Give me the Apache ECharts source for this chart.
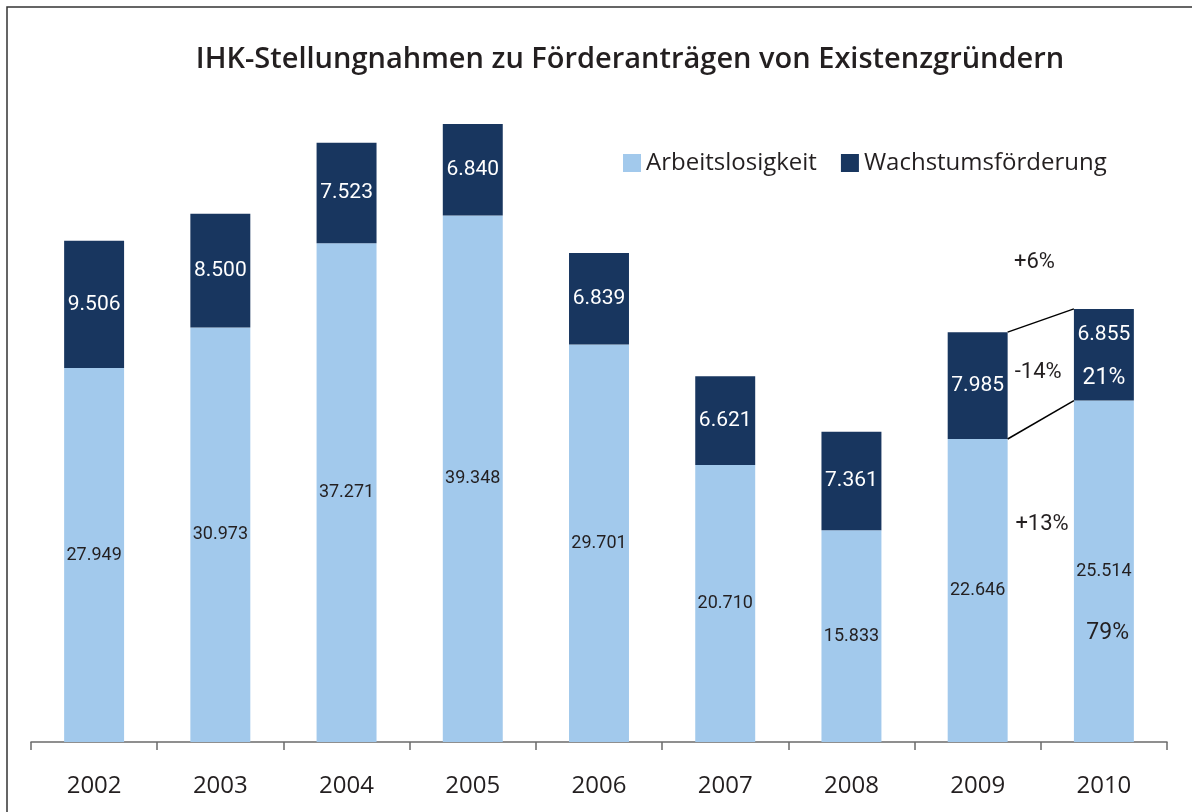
<!DOCTYPE html>
<html>
<head>
<meta charset="utf-8">
<script src="https://cdn.jsdelivr.net/npm/echarts@6/dist/echarts.min.js"></script>
<style>
  html, body { margin: 0; padding: 0; background: #fff; }
  #chart { width: 1192px; height: 812px; }
</style>
</head>
<body>
<div id="chart"></div>
<script>
// Daten
const years = ['2002', '2003', '2004', '2005', '2006', '2007', '2008', '2009', '2010'];
const arbeitslosigkeit = [27949, 30973, 37271, 39348, 29701, 20710, 15833, 22646, 25514];
const wachstum = [9506, 8500, 7523, 6840, 6839, 6621, 7361, 7985, 6855];

// Vergleich 2009 -> 2010: Texte und ihre Lage (Kategorie-Position, Wert)
const noteTexts = ['+6%', '-14%', '+13%', '21%', '79%'];
const notePos = [7.45, 7.48, 7.51, 8.0, 8.03];
const noteValues = [35800, 27580, 16220, 27200, 8150];

const blue = '#a2c9ec';
const navy = '#18365f';
const ink = '#231f20';

const fmt = (v) => String(v).replace(/\B(?=(\d{3})+(?!\d))/g, '.');

const chart = echarts.init(document.getElementById('chart'));

chart.setOption({
  backgroundColor: '#fff',
  animation: false,
  title: {
    text: 'IHK-Stellungnahmen zu Förderanträgen von Existenzgründern',
    left: 625,
    textAlign: 'center',
    top: 40,
    textStyle: { fontFamily: 'Open Sans', fontWeight: 600, fontSize: 29, color: ink }
  },
  legend: {
    left: 618,
    top: 146,
    itemWidth: 18,
    itemHeight: 18,
    itemGap: 24,
    icon: 'rect',
    textStyle: { fontFamily: 'Open Sans', fontSize: 24, color: ink, padding: [0, 0, 0, 0] },
    data: ['Arbeitslosigkeit', 'Wachstumsförderung']
  },
  graphic: [{
    type: 'rect',
    shape: { x: 7, y: 7, width: 1300, height: 900 },
    style: { fill: 'none', stroke: '#333', lineWidth: 1.5 },
    silent: true
  }],
  grid: { left: 31, right: 25, top: 73, bottom: 70 },
  xAxis: {
    type: 'category',
    data: years,
    axisLine: { lineStyle: { color: '#6b6b6b', width: 1.5 } },
    axisTick: { show: true, interval: 0, length: 8, lineStyle: { color: '#6b6b6b', width: 1.5 } },
    axisLabel: { fontFamily: 'Open Sans', fontSize: 24, color: ink, margin: 32 }
  },
  yAxis: {
    type: 'value',
    min: 0,
    max: 50000,
    show: false,
    splitLine: { show: false }
  },
  series: [
    {
      name: 'Arbeitslosigkeit',
      type: 'bar',
      stack: 'total',
      barWidth: '47.5%',
      itemStyle: { color: blue },
      label: {
        show: true,
        position: 'inside',
        formatter: (p) => fmt(p.value),
        fontFamily: 'Roboto',
        fontSize: 18,
        color: ink
      },
      data: arbeitslosigkeit
    },
    {
      name: 'Wachstumsförderung',
      type: 'bar',
      stack: 'total',
      barWidth: '47.5%',
      itemStyle: { color: navy },
      label: {
        show: true,
        position: 'inside',
        formatter: (p) => fmt(p.value),
        fontFamily: 'Roboto',
        fontSize: 21,
        color: '#fff'
      },
      data: wachstum.map((v, i) => i === 8 ? { value: v, label: { offset: [0, -20] } } : v)
    },
    {
      // Verbindungslinien zwischen 2009 und 2010 (oben und Grenze)
      type: 'custom',
      silent: true,
      z: 5,
      data: [
        [7, 8, arbeitslosigkeit[7] + wachstum[7], arbeitslosigkeit[8] + wachstum[8]],
        [7, 8, arbeitslosigkeit[7], arbeitslosigkeit[8]]
      ],
      renderItem: (params, api) => {
        const half = api.size([1, 0])[0] * 0.475 / 2;
        const a = api.coord([api.value(0), api.value(2)]);
        const b = api.coord([api.value(1), api.value(3)]);
        return {
          type: 'line',
          shape: { x1: a[0] + half, y1: a[1], x2: b[0] - half, y2: b[1] },
          style: { stroke: '#000', lineWidth: 1.5 }
        };
      }
    },
    {
      type: 'custom',
      silent: true,
      z: 6,
      data: noteTexts.map((t, i) => [notePos[i], noteValues[i], i]),
      renderItem: (params, api) => {
        const i = api.value(2);
        const band = api.size([1, 0])[0];
        const base = api.coord([0, api.value(1)]);
        const x = base[0] + api.value(0) * band;
        const light = i === 3;
        return {
          type: 'text',
          x: x,
          y: base[1],
          style: {
            text: noteTexts[i],
            fontFamily: 'Roboto',
            fontSize: i >= 3 ? 23 : 22,
            fill: light ? '#fff' : ink,
            align: 'center',
            verticalAlign: 'middle'
          }
        };
      }
    }
  ]
});
</script>
</body>
</html>
